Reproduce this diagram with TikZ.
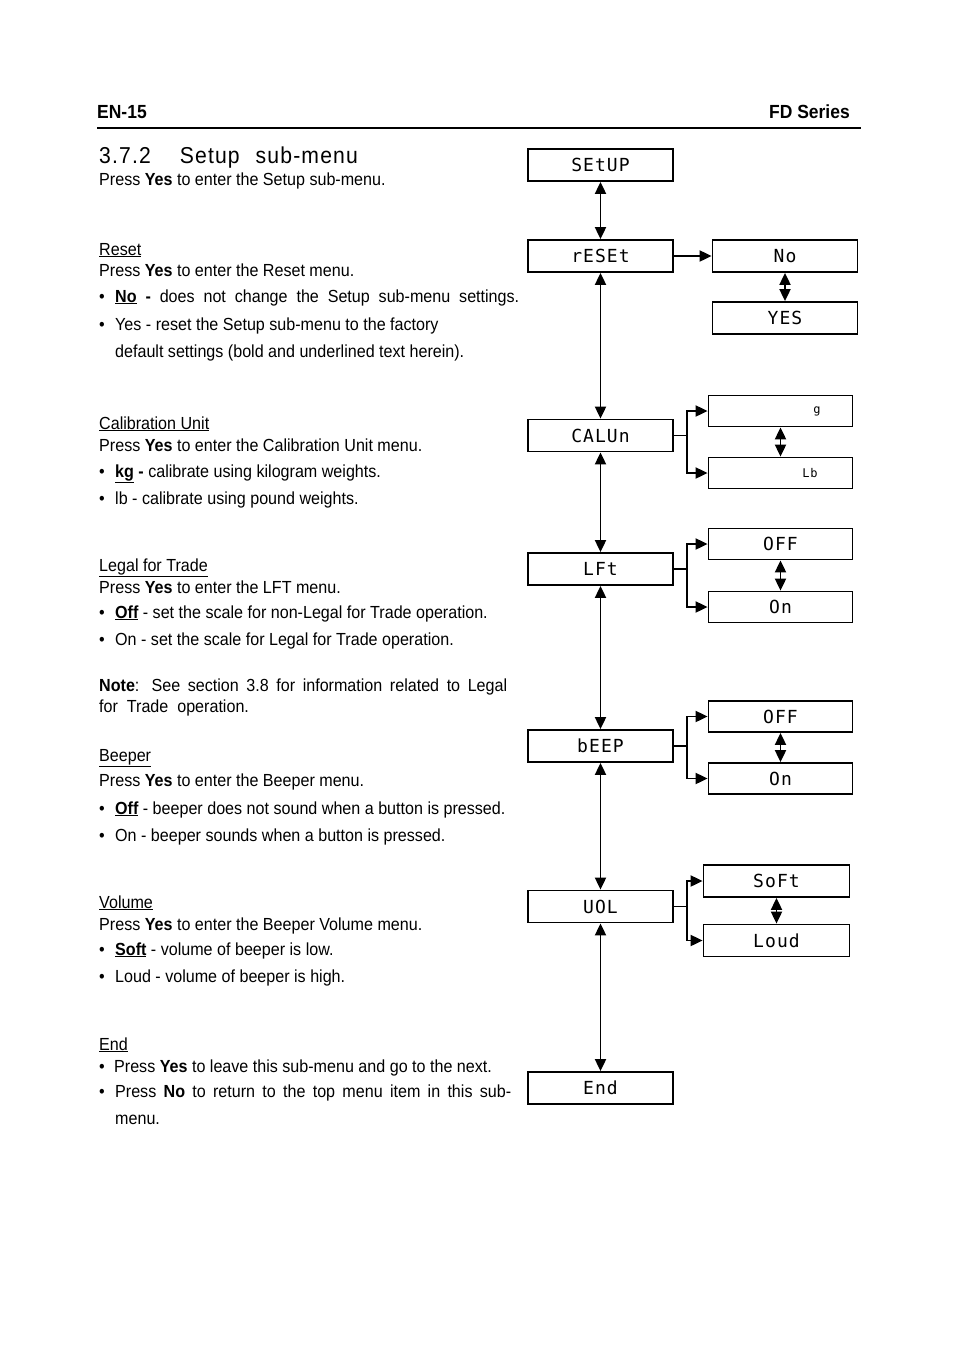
\documentclass[tikz,border=0pt]{standalone}
\usepackage{fontspec}
\setmainfont{Liberation Sans}[FakeStretch=0.92]
\newfontfamily\segfont{DejaVu Sans Mono}[LetterSpace=6]
\newfontfamily\headfont{Liberation Sans}[FakeStretch=0.92,LetterSpace=5]
\usetikzlibrary{arrows.meta}
\newcommand\bodyfont{\fontsize{17.5}{20}\selectfont}
\newcommand\bul{\makebox[16pt][l]{•}}
\begin{document}
\begin{tikzpicture}[x=1pt,y=-1pt,
  mbox/.style={draw, line width=1.8pt, minimum width=145pt, minimum height=32pt, inner sep=0pt,
    font=\segfont\fontsize{18}{18}\selectfont},
  obox/.style={mbox, minimum width=144pt, minimum height=31pt},
  dbl/.style={line width=1.9pt, {Triangle[length=12pt,width=11pt]}-{Triangle[length=12pt,width=11pt]}},
  sarr/.style={line width=1.9pt, -{Triangle[length=12pt,width=11pt]}},
  lnk/.style={line width=1.9pt},
  txt/.style={anchor=base west, inner sep=0pt, font=\bodyfont},
]
\useasboundingbox (0,0) rectangle (954,1354);

% header
\node[anchor=base west, inner sep=0pt, font=\bfseries\fontsize{19}{20}\selectfont] (hl) at (97,118) {EN-15};
\node[anchor=base east, inner sep=0pt, font=\bfseries\fontsize{19}{20}\selectfont] (hr) at (850,118) {FD Series};
\coordinate (rl) at (97,128);
\coordinate (rr) at (861,128);
\draw[line width=2pt] (rl) -- (rr);

% heading
\node[anchor=base west, inner sep=0pt, font=\headfont\fontsize{23}{24}\selectfont] (head) at (99,163)
  {3.7.2\hspace{29pt}Setup\hspace{16pt}sub-menu};

% left text
\node[txt] (t1) at (99,185) {Press \textbf{Yes} to enter the Setup sub-menu.};

\node[txt] (t2) at (99,255) {\underline{Reset}};
\node[txt] (t3) at (99,276) {Press \textbf{Yes} to enter the Reset menu.};
\node[txt] (t4) at (99,302) {\makebox[420pt][s]{\bul\textbf{\underline{No} -} does not change the Setup sub-menu settings.}};
\node[txt] (t5) at (99,330) {\bul Yes - reset the Setup sub-menu to the factory};
\node[txt] (t6) at (115,357) {default settings (bold and underlined text herein).};

\node[txt] (t7) at (99,429) {\underline{Calibration Unit}};
\node[txt] (t8) at (99,451) {Press \textbf{Yes} to enter the Calibration Unit menu.};
\node[txt] (t9) at (99,477) {\bul\textbf{\underline{kg} -} calibrate using kilogram weights.};
\node[txt] (t10) at (99,504) {\bul lb - calibrate using pound weights.};

\node[txt] (t11) at (99,571) {\underline{Legal for Trade}};
\node[txt] (t12) at (99,593) {Press \textbf{Yes} to enter the LFT menu.};
\node[txt] (t13) at (99,618) {\bul\textbf{\underline{Off}} - set the scale for non-Legal for Trade operation.};
\node[txt] (t14) at (99,645) {\bul On - set the scale for Legal for Trade operation.};

\node[txt] (t15) at (99,691) {\makebox[408pt][s]{\textbf{Note}: See section 3.8 for information related to Legal}};
\node[txt] (t16) at (99,712) {for\ \ Trade\ \ operation.};

\node[txt] (t17) at (99,761) {\underline{Beeper}};
\node[txt] (t18) at (99,786) {Press \textbf{Yes} to enter the Beeper menu.};
\node[txt] (t19) at (99,814) {\bul\textbf{\underline{Off}} - beeper does not sound when a button is pressed.};
\node[txt] (t20) at (99,841) {\bul On - beeper sounds when a button is pressed.};

\node[txt] (t21) at (99,908) {\underline{Volume}};
\node[txt] (t22) at (99,930) {Press \textbf{Yes} to enter the Beeper Volume menu.};
\node[txt] (t23) at (99,955) {\bul\textbf{\underline{Soft}} - volume of beeper is low.};
\node[txt] (t24) at (99,982) {\bul Loud - volume of beeper is high.};

\node[txt] (t25) at (99,1050) {\underline{End}};
\node[txt] (t26) at (99,1072) {\makebox[15pt][l]{•}Press \textbf{Yes} to leave this sub-menu and go to the next.};
\node[txt] (t27) at (99,1097) {\makebox[412pt][s]{\bul Press \textbf{No} to return to the top menu item in this sub-}};
\node[txt] (t28) at (115,1124) {menu.};

% main column
\node[mbox] (setup) at (600.5,165) {SEtUP};
\node[mbox] (reset) at (600.5,256) {rESEt};
\node[mbox] (calun) at (600.5,435.5) {CALUn};
\node[mbox] (lft)   at (600.5,569) {LFt};
\node[mbox] (beep)  at (600.5,746) {bEEP};
\node[mbox] (vol)   at (600.5,906.5) {UOL};
\node[mbox] (endb)  at (600.5,1088) {End};

\draw[dbl] (setup) -- (reset);
\draw[dbl] (reset) -- (calun);
\draw[dbl] (calun) -- (lft);
\draw[dbl] (lft) -- (beep);
\draw[dbl] (beep) -- (vol);
\draw[dbl] (vol) -- (endb);

% reset options
\node[obox, minimum width=145pt, minimum height=32pt] (no) at (785,256) {No};
\node[obox, minimum width=145pt, minimum height=32pt] (yes) at (785,318) {YES};
\draw[sarr] (reset) -- (no);
\draw[dbl] (no) -- (yes);

% calibration unit options
\node[obox] (kg) at (780.5,411) {\makebox[80pt][r]{\fontsize{12}{12}\selectfont g}};
\node[obox] (lb) at (780.5,473) {\makebox[74pt][r]{\fontsize{12}{12}\selectfont Lb}};
\coordinate (cj) at (687,435.5);
\draw[lnk] (calun) -- (cj);
\draw[sarr] (cj) |- (kg);
\draw[sarr] (cj) |- (lb);
\draw[dbl] (kg) -- (lb);

% LFT options
\node[obox] (loff) at (780.5,544) {OFF};
\node[obox] (lon) at (780.5,607) {On};
\coordinate (lj) at (687,569);
\draw[lnk] (lft) -- (lj);
\draw[sarr] (lj) |- (loff);
\draw[sarr] (lj) |- (lon);
\draw[dbl] (loff) -- (lon);

% beep options
\node[obox] (boff) at (780.5,716.5) {OFF};
\node[obox] (bon) at (780.5,778.5) {On};
\coordinate (bj) at (687,746);
\draw[lnk] (beep) -- (bj);
\draw[sarr] (bj) |- (boff);
\draw[sarr] (bj) |- (bon);
\draw[dbl] (boff) -- (bon);

% volume options
\node[obox, minimum width=146pt, minimum height=32pt] (soft) at (776.5,881) {SoFt};
\node[obox, minimum width=146pt, minimum height=32pt] (loud) at (776.5,940.5) {Loud};
\coordinate (vj) at (687,906.5);
\draw[lnk] (vol) -- (vj);
\draw[sarr] (vj) |- (soft);
\draw[sarr] (vj) |- (loud);
\draw[dbl] (soft) -- (loud);
\end{tikzpicture}
\end{document}
